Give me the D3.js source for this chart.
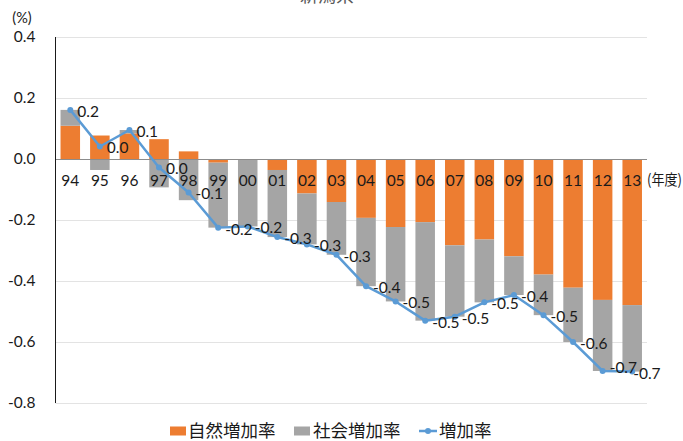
<!DOCTYPE html>
<html>
<head>
<meta charset="utf-8">
<script src="https://cdn.jsdelivr.net/npm/d3@7"></script>
<style>
  html, body { margin: 0; padding: 0; background: #ffffff; }
  svg { display: block; }
  text { font-family: Lato, "Noto Sans CJK JP", sans-serif; fill: #1a1a1a; }
  .cjk { font-family: "Noto Sans CJK JP", sans-serif; }
</style>
</head>
<body>
<svg id="chart" width="683" height="441"></svg>
<script>
// 年度 (fiscal years)
const years = ["94","95","96","97","98","99","00","01","02","03","04","05","06","07","08","09","10","11","12","13"];
// 自然増加率 (%)
const naturalRate = [0.109, 0.077, 0.084, 0.065, 0.025, -0.012, -0.002, -0.036, -0.113, -0.141,
                     -0.193, -0.223, -0.207, -0.283, -0.264, -0.319, -0.379, -0.422, -0.462, -0.479];
// 社会増加率 (%)
const socialRate = [0.052, -0.036, 0.011, -0.093, -0.135, -0.213, -0.219, -0.220, -0.167, -0.173,
                    -0.224, -0.244, -0.323, -0.234, -0.206, -0.127, -0.133, -0.178, -0.233, -0.218];
// y-axis ticks
const yTicks = [0.4, 0.2, 0.0, -0.2, -0.4, -0.6, -0.8];
const seriesNames = ["自然増加率", "社会増加率", "増加率"];
const colors = { natural: "#ED7D31", social: "#A5A5A5", total: "#5B9BD5" };

const svg = d3.select("#chart");

const rows = years.map((y, i) => ({
  year: y,
  natural: naturalRate[i],
  social: socialRate[i],
  total: naturalRate[i] + socialRate[i]
}));

const x = d3.scaleBand()
  .domain(years)
  .range([55.5, 647])
  .paddingInner(0.34)
  .paddingOuter(0.17);

const y = d3.scaleLinear()
  .domain([-0.8, 0.4])
  .range([403, 37]);

// title (sits mostly above the frame)
svg.append("text")
  .attr("class", "cjk")
  .attr("x", 327)
  .attr("y", 2)
  .attr("text-anchor", "middle")
  .attr("font-size", 18)
  .style("fill", "#595959")
  .text("新潟県");

// gridlines
svg.append("g")
  .selectAll("line")
  .data(yTicks.filter(t => t !== 0))
  .join("line")
  .attr("x1", 55.5)
  .attr("x2", 647)
  .attr("y1", d => Math.round(y(d)) + 0.5)
  .attr("y2", d => Math.round(y(d)) + 0.5)
  .attr("stroke", "#e3e3e3")
  .attr("stroke-width", 1);

// stacked bars (positive values stack up, negative values stack down)
const stack = d3.stack()
  .keys(["natural", "social"])
  .offset(d3.stackOffsetDiverging);
const stacked = stack(rows);

svg.append("g")
  .selectAll("g")
  .data(stacked)
  .join("g")
  .attr("fill", d => colors[d.key])
  .selectAll("rect")
  .data(d => d)
  .join("rect")
  .attr("x", d => x(d.data.year))
  .attr("width", x.bandwidth())
  .attr("y", d => y(Math.max(d[0], d[1])))
  .attr("height", d => Math.abs(y(d[0]) - y(d[1])));

// zero line
svg.append("line")
  .attr("x1", 55.5)
  .attr("x2", 647)
  .attr("y1", Math.round(y(0)) + 0.5)
  .attr("y2", Math.round(y(0)) + 0.5)
  .attr("stroke", "#8c8c8c")
  .attr("stroke-width", 1);

// vertical axis line
svg.append("line")
  .attr("x1", 55.5)
  .attr("x2", 55.5)
  .attr("y1", y(0.4))
  .attr("y2", y(-0.8))
  .attr("stroke", "#1a1a1a")
  .attr("stroke-width", 1);

// y axis labels
const fmtTick = d => d.toFixed(1);
const yAxis = svg.append("g")
  .attr("transform", "translate(55.5,0)")
  .call(d3.axisLeft(y).tickValues(yTicks).tickSize(0).tickPadding(20).tickFormat(fmtTick));
yAxis.select(".domain").remove();
yAxis.selectAll("text")
  .attr("font-size", 15.5)
  .attr("font-family", "Lato, sans-serif")
  .style("fill", "#1a1a1a");

svg.append("text")
  .attr("x", 22)
  .attr("y", 23)
  .attr("text-anchor", "middle")
  .attr("font-size", 14.5)
  .text("(%)");

// category labels along the zero line
const xAxis = svg.append("g")
  .attr("transform", `translate(0,${y(0)})`)
  .call(d3.axisBottom(x).tickSize(0).tickPadding(16));
xAxis.select(".domain").remove();
xAxis.selectAll("text")
  .attr("font-size", 15.5)
  .attr("font-family", "Lato, sans-serif")
  .style("fill", "#1a1a1a");

svg.append("text")
  .attr("class", "cjk")
  .attr("x", 647)
  .attr("y", 185)
  .attr("font-size", 15)
  .attr("textLength", 35)
  .attr("lengthAdjust", "spacingAndGlyphs")
  .text("(年度)");

// total rate line
const line = d3.line()
  .x(d => x(d.year) + x.bandwidth() / 2)
  .y(d => y(d.total));

svg.append("path")
  .datum(rows)
  .attr("fill", "none")
  .attr("stroke", colors.total)
  .attr("stroke-width", 2.5)
  .attr("stroke-linejoin", "round")
  .attr("d", line);

svg.append("g")
  .selectAll("circle")
  .data(rows)
  .join("circle")
  .attr("cx", d => x(d.year) + x.bandwidth() / 2)
  .attr("cy", d => y(d.total))
  .attr("r", 3)
  .attr("fill", colors.total);

// value labels to the right of each point
const fmtLabel = v => (Math.round(v * 10) / 10).toFixed(1);
const n = rows.length;
svg.append("g")
  .selectAll("text")
  .data(rows)
  .join("text")
  .attr("x", (d, i) => x(d.year) + x.bandwidth() / 2 + (i === n - 1 ? 1 : 7))
  .attr("y", (d, i) => y(d.total) + (i === n - 2 ? -3 : (i === n - 1 ? 2 : 1.5)))
  .attr("dy", "0.35em")
  .attr("font-size", 15.5)
  .attr("font-family", "Lato, sans-serif")
  .text(d => fmtLabel(d.total));

// legend
const legend = svg.append("g").attr("transform", "translate(0,431)");
const legendItems = [
  { name: seriesNames[0], type: "rect", color: colors.natural, x: 170, tx: 188 },
  { name: seriesNames[1], type: "rect", color: colors.social, x: 294, tx: 313 },
  { name: seriesNames[2], type: "line", color: colors.total, x: 419, tx: 439 }
];
legendItems.forEach(item => {
  if (item.type === "rect") {
    legend.append("rect")
      .attr("x", item.x).attr("y", -4.5)
      .attr("width", 16).attr("height", 9)
      .attr("fill", item.color);
  } else {
    legend.append("line")
      .attr("x1", item.x).attr("x2", item.x + 18)
      .attr("y1", 0).attr("y2", 0)
      .attr("stroke", item.color).attr("stroke-width", 2.5);
    legend.append("circle")
      .attr("cx", item.x + 9).attr("cy", 0).attr("r", 3)
      .attr("fill", item.color);
  }
  legend.append("text")
    .attr("class", "cjk")
    .attr("x", item.tx)
    .attr("y", 0)
    .attr("dy", "0.36em")
    .attr("font-size", 17.5)
    .text(item.name);
});
</script>
</body>
</html>
